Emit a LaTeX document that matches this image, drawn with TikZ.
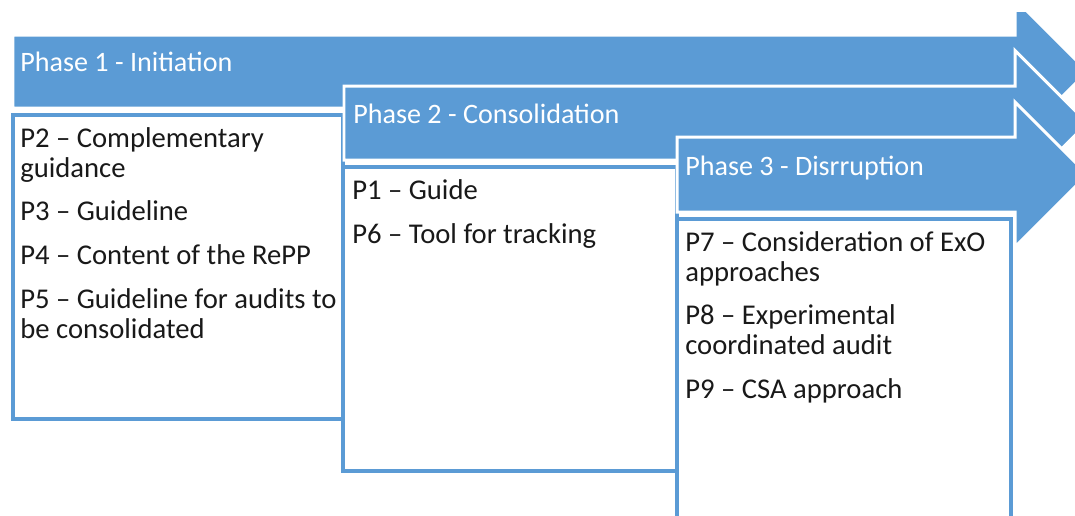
\documentclass[tikz,border=0pt]{standalone}
\usepackage{fontspec}
\setmainfont{Carlito}
\definecolor{phaseblue}{RGB}{91,155,213}
\definecolor{itemtext}{RGB}{25,25,25}
\usetikzlibrary{positioning}

\begin{document}
\begin{tikzpicture}[
    x=0.02cm, y=-0.02cm,
    phase/.style={fill=phaseblue, draw=white, line width=1.7pt, line join=miter},
    itembox/.style={rectangle, draw=phaseblue, fill=white, line width=2.2pt, anchor=north west, minimum width=6.6cm, inner sep=0pt},
    phaselabel/.style={anchor=base west, inner sep=0pt, text=white, font=\fontsize{16}{17}\selectfont},
    items/.style={anchor=north west, inner sep=0pt, align=left, text=itemtext, font=\fontsize{16.3}{17}\selectfont}
]
    \useasboundingbox (0,0) rectangle (1075,515);
    \clip (0,12) rectangle (1075,515);

    % boxes under the arrows
    \node[itembox, minimum height=6.08cm] (box1) at (11,113) {};
    \node[itembox, minimum height=6.08cm, minimum width=6.68cm] (box2) at (341,165) {};
    \node[itembox, minimum height=5.98cm, minimum width=6.68cm] (box3) at (675,217) {};

    % phase arrows
    \draw[phase] (13,35) -- (1015,35) -- (1015,-1) -- (1087.5,71.5) -- (1015,144) -- (1015,108) -- (13,108) -- cycle;
    \draw[phase] (344,86) -- (1015,86) -- (1015,50.5) -- (1087.5,123) -- (1015,195.5) -- (1015,160) -- (344,160) -- cycle;
    \draw[phase] (677,137) -- (1015,137) -- (1015,102) -- (1087.5,174.5) -- (1015,247) -- (1015,212) -- (677,212) -- cycle;

    \node[phaselabel] (ph1) at (20,71) {Phase 1 - Initiation};
    \node[phaselabel] (ph2) at (353,123) {Phase 2 - Consolidation};
    \node[phaselabel] (ph3) at (685,175) {Phase 3 - Disrruption};

    \node[items] (list1) at ([shift={(9,13)}]box1.north west) {\strut P2 – Complementary\\ guidance\\[7.9pt]
        P3 – Guideline\\[7.9pt] P4 – Content of the RePP\\[7.9pt]
        P5 – Guideline for audits to\\ be consolidated};
    \node[items] (list2) at ([shift={(11,13)}]box2.north west) {\strut P1 – Guide\\[7.9pt] P6 – Tool for tracking};
    \node[items] (list3) at ([shift={(10,13)}]box3.north west) {\strut P7 – Consideration of ExO\\ approaches\\[7.9pt]
        P8 – Experimental\\ coordinated audit\\[7.9pt] P9 – CSA approach};
\end{tikzpicture}
\end{document}
